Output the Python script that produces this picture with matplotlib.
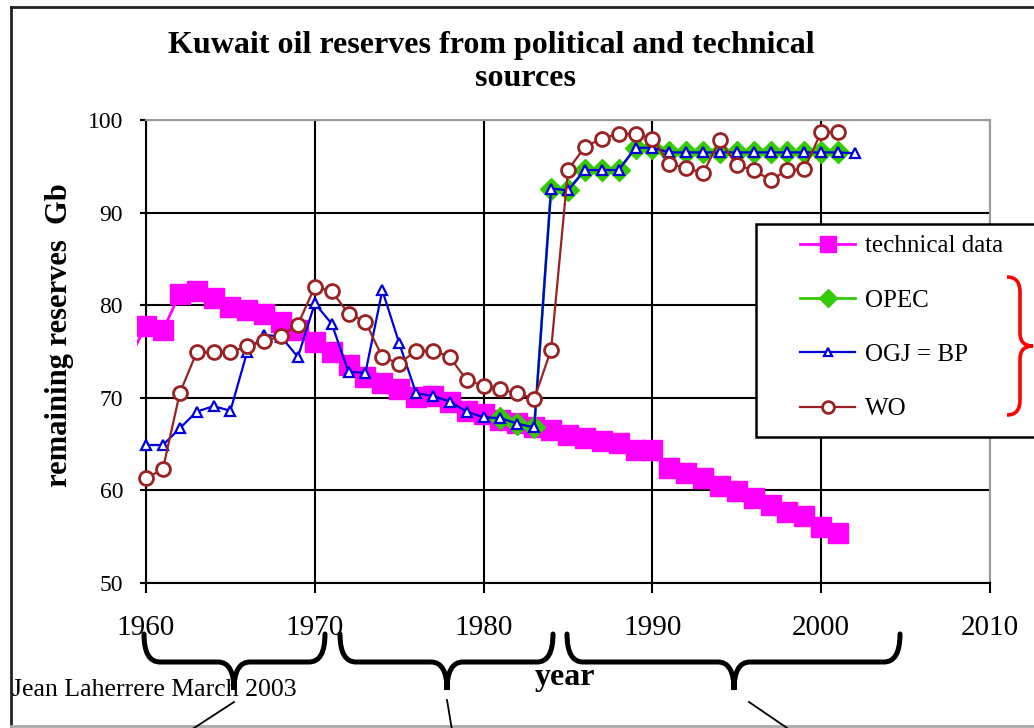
import matplotlib
matplotlib.use('Agg')
import matplotlib.pyplot as plt
from matplotlib.path import Path
from matplotlib.patches import PathPatch, Rectangle
from matplotlib.lines import Line2D

# Data (Gb)
tech_years = list(range(1959, 2002))
tech_values = [74.2, 77.8, 77.3, 81.2, 81.5, 80.8, 79.8, 79.5, 79.0, 78.2, 77.3,
               76.0, 75.0, 73.5, 72.3, 71.6, 70.9, 70.1, 70.2, 69.6, 68.6,
               68.2, 67.6, 67.3, 66.8, 66.5, 66.0, 65.7, 65.3, 65.1, 64.4,
               64.4, 62.4, 61.9, 61.3, 60.5, 59.9, 59.2, 58.4, 57.7, 57.2,
               56.1, 55.4]

opec_years = list(range(1981, 2002))
opec_values = [67.8, 67.2, 66.8, 92.6, 92.4, 94.6, 94.6, 94.6, 97.0, 97.0,
               96.5, 96.5, 96.5, 96.5, 96.5, 96.5, 96.5, 96.5, 96.5, 96.5, 96.5]

ogj_years = list(range(1960, 2003))
ogj_values = [64.9, 64.9, 66.7, 68.5, 69.1, 68.6, 75.0, 76.8, 76.6, 74.4,
              80.2, 78.0, 72.8, 72.7, 81.6, 75.9, 70.5, 70.2, 69.6, 68.5,
              67.9, 67.8, 67.2, 66.8, 92.6, 92.4, 94.6, 94.6, 94.6, 97.0,
              97.0, 96.5, 96.5, 96.5, 96.5, 96.5, 96.5, 96.5, 96.5, 96.5,
              96.5, 96.5, 96.4]

wo_years = list(range(1960, 2002))
wo_values = [61.3, 62.3, 70.5, 74.9, 74.9, 74.9, 75.6, 76.1, 76.7, 77.9,
             82.0, 81.5, 79.1, 78.2, 74.4, 73.7, 75.1, 75.1, 74.4, 71.9,
             71.3, 70.9, 70.5, 69.9, 75.2, 94.6, 97.1, 98.0, 98.5, 98.5,
             98.0, 95.3, 94.8, 94.3, 97.8, 95.1, 94.6, 93.5, 94.6, 94.7,
             98.7, 98.7]

x_ticks = [1960, 1970, 1980, 1990, 2000, 2010]
y_ticks = [50, 60, 70, 80, 90, 100]

W, H = 1034, 728
plt.rcParams['font.family'] = ['Liberation Serif', 'DejaVu Serif']

fig = plt.figure(figsize=(W / 100, H / 100), dpi=100)
ax = fig.add_axes([146 / W, 1 - 583 / H, (990 - 146) / W, (583 - 120) / H])

MAG = '#ff00ff'
GRN = '#33cc00'
BLU = '#0000dd'
WOC = '#992222'

# series, in the order the original draws them
tech_line, = ax.plot(tech_years, tech_values, color=MAG, lw=2, marker='s', ms=14,
                     mec=MAG, mfc=MAG, markevery=list(range(1, len(tech_years))),
                     zorder=3)
clip = Rectangle((1959.47, 40), 60, 70, transform=ax.transData)
tech_line.set_clip_path(clip)
opec_line, = ax.plot(opec_years, opec_values, color=GRN, lw=2, marker='D', ms=11,
                     mec=GRN, mfc=GRN, clip_on=False, zorder=4)
ogj_line, = ax.plot(ogj_years, ogj_values, color=BLU, lw=1.6, marker='^', ms=7,
                    mec=BLU, mfc='white', mew=1.6, clip_on=False, zorder=5)
wo_line, = ax.plot(wo_years, wo_values, color=WOC, lw=1.6, marker='o', ms=10,
                   mec=WOC, mfc='white', mew=2, clip_on=False, zorder=6)

ax.set_xlim(1960, 2010)
ax.set_ylim(50, 100)
ax.set_xticks(x_ticks)
ax.set_yticks(y_ticks)
ax.grid(True, color='black', lw=1.5)
ax.set_axisbelow(True)
for side in ['top', 'right']:
    ax.spines[side].set_color('#999999')
    ax.spines[side].set_linewidth(1.5)
for side in ['left', 'bottom']:
    ax.spines[side].set_color('black')
    ax.spines[side].set_linewidth(1.5)
ax.tick_params(axis='x', direction='out', length=7, width=1.5, pad=16, labelsize=21)
ax.tick_params(axis='y', direction='out', length=4.5, width=1.5, pad=12, labelsize=17)

# texts
fig.text(491 / W, 1 - 45 / H, 'Kuwait oil reserves from political and technical',
         ha='center', va='center', fontsize=23, fontweight='bold')
fig.text(526 / W, 1 - 79 / H, 'sources', ha='center', va='center',
         fontsize=23, fontweight='bold')
fig.text(60 / W, 1 - 335 / H, 'remaining reserves  Gb', rotation=90,
         ha='center', va='center', fontsize=22, fontweight='bold')
fig.text(565 / W, 1 - 678 / H, 'year', ha='center', va='center',
         fontsize=23, fontweight='bold')
fig.text(12 / W, 1 - 690 / H, 'Jean Laherrere March 2003', ha='left', va='center',
         fontsize=18.5)


def px(x, y):
    return (x / W, 1 - y / H)


# outer frame
fig.add_artist(Line2D([px(11, 7)[0], px(1040, 7)[0]], [px(11, 7)[1]] * 2,
                      transform=fig.transFigure, color='#222222', lw=2))
fig.add_artist(Line2D([px(11, 7)[0]] * 2, [px(11, 7)[1], px(11, 726)[1]],
                      transform=fig.transFigure, color='#222222', lw=2))
fig.add_artist(Line2D([px(11, 726)[0], px(1040, 726)[0]], [px(11, 726)[1]] * 2,
                      transform=fig.transFigure, color='#aaaaaa', lw=2))

# legend box and legend
fig.add_artist(Rectangle(px(756, 437), (1045 - 756) / W, (437 - 224) / H,
                         transform=fig.transFigure, facecolor='white',
                         edgecolor='black', lw=1.8, zorder=10, clip_on=False))
leg = fig.legend([tech_line, opec_line, ogj_line, wo_line],
                 ['technical data', 'OPEC', 'OGJ = BP', 'WO'],
                 loc='upper left', bbox_to_anchor=px(800, 235), frameon=False,
                 fontsize=18, handlelength=2.2, handletextpad=0.4,
                 labelspacing=1.27, borderpad=0, borderaxespad=0, markerscale=0.85)
leg.set_zorder(11)


def brace_h(x0, x1, xm, ytop, ymid, ytip, r=16):
    verts = [px(x0, ytop), px(x0, ymid), px(x0 + r, ymid),
             px(xm - r, ymid),
             px(xm, ymid), px(xm, ytip),
             px(xm, ymid), px(xm + r, ymid),
             px(x1 - r, ymid),
             px(x1, ymid), px(x1, ytop)]
    codes = [Path.MOVETO, Path.CURVE3, Path.CURVE3,
             Path.LINETO,
             Path.CURVE3, Path.CURVE3,
             Path.CURVE3, Path.CURVE3,
             Path.LINETO,
             Path.CURVE3, Path.CURVE3]
    return Path(verts, codes)


for x0, x1, xm in [(144, 325, 234), (340, 553, 447), (567, 900, 734)]:
    fig.add_artist(PathPatch(brace_h(x0, x1, xm, 634, 662, 690),
                             transform=fig.transFigure, fill=False,
                             edgecolor='black', lw=3.6, capstyle='round'))

for (xa, ya), (xb, yb) in [((234, 702), (191, 730)), ((447, 700), (452, 730)),
                           ((749, 702), (790, 730))]:
    fig.add_artist(Line2D([px(xa, ya)[0], px(xb, yb)[0]], [px(xa, ya)[1], px(xb, yb)[1]],
                          transform=fig.transFigure, color='black', lw=1.3))

# red brace next to the political sources
rb = Path([px(1007, 277), px(1020, 277), px(1020, 292),
           px(1020, 333),
           px(1020, 346), px(1033, 346),
           px(1020, 346), px(1020, 359),
           px(1020, 400),
           px(1020, 415), px(1007, 415)],
          [Path.MOVETO, Path.CURVE3, Path.CURVE3, Path.LINETO,
           Path.CURVE3, Path.CURVE3, Path.CURVE3, Path.CURVE3,
           Path.LINETO, Path.CURVE3, Path.CURVE3])
fig.add_artist(PathPatch(rb, transform=fig.transFigure, fill=False,
                         edgecolor='#ff0000', lw=2.6, zorder=12))

fig.savefig('out.png', dpi=100)
